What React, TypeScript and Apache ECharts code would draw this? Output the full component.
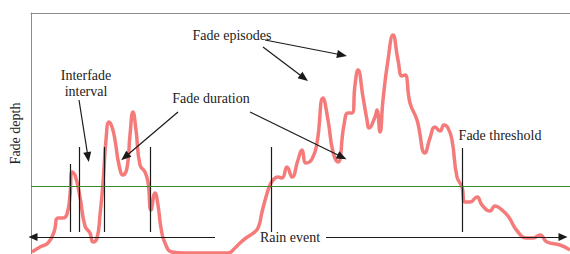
import React, { useEffect, useRef } from "react";
import * as echarts from "echarts";

// Time (arbitrary units) and fade depth (arbitrary units)
const time = [
  1, 9, 17, 23, 27, 32, 36, 39, 41, 44, 49, 54, 59, 62, 66, 69, 72, 75, 78, 81,
  84, 88, 92, 96, 99, 102, 105, 109, 114, 117, 120, 124, 127, 130, 134, 141, 154, 169, 184, 197,
  204, 209, 215, 221, 227, 231, 235, 239, 243, 247, 251, 256, 261, 267, 271, 275, 281, 286, 292, 297,
  302, 307, 313, 317, 321, 324, 327, 332, 336, 338, 344, 346, 349, 352, 357, 362, 367, 371, 374, 379,
  386, 394, 399, 404, 409, 413, 417, 421, 426, 431, 434, 439, 446, 451, 459, 464, 471, 477, 487, 496,
  502, 509, 516, 529, 539,
];
const fadeDepth = [
  2, 7, 11, 22, 36, 36, 40, 59, 82, 79, 57, 28, 21, 12, 16, 39, 71, 114, 132, 127,
  114, 89, 79, 86, 119, 142, 124, 89, 82, 72, 44, 61, 49, 26, 11, 2, 1, 1, 1, 1,
  6, 11, 16, 20, 26, 42, 57, 69, 75, 77, 76, 87, 77, 94, 104, 91, 95, 111, 156, 134,
  102, 92, 129, 141, 141, 169, 184, 157, 134, 126, 137, 144, 122, 154, 194, 219, 194, 178, 179, 151,
  134, 101, 116, 127, 123, 129, 126, 114, 77, 67, 52, 52, 57, 49, 43, 48, 44, 38, 22, 16,
  16, 19, 12, 9, 4,
];

const fadeThreshold = 68;
// vertical markers: [time, top depth]
const markerTimes = [39, 48, 73, 119, 240, 431];
const markerTops = [90, 107, 107, 107, 107, 106];
const markerBottom = 22;
const rainEventDepth = 17;
const rainEventLeft = [184, 2];
const rainEventRight = [295, 532];
// annotation arrows: [fromT, fromD, toT, toD]
const annotationArrows = [
  [234, 214, 311, 199],
  [232, 207, 273, 176],
  [219, 142, 311, 97],
  [147, 142, 94, 97],
  [48, 154, 57, 97],
];

export default function App() {
  const ref = useRef<HTMLDivElement>(null);
  useEffect(() => {
    const chart = echarts.init(ref.current!, null, { renderer: "svg" });
    const font = '"Liberation Serif", "Times New Roman", serif';
    const black = { color: "#1a1a1a", width: 1.2, type: "solid" };
    const markLineData: any[] = [];
    markerTimes.forEach((t, i) => {
      markLineData.push([
        { coord: [t, markerTops[i]], lineStyle: black },
        { coord: [t, markerBottom] },
      ]);
    });
    markLineData.push([
      { coord: [0, fadeThreshold], lineStyle: { color: "#3b8a2c", width: 1.2, type: "solid" }, symbol: "none" },
      { coord: [539, fadeThreshold], symbol: "none" },
    ]);
    markLineData.push([
      { coord: [rainEventLeft[0], rainEventDepth], lineStyle: black, symbol: "none" },
      { coord: [rainEventLeft[1], rainEventDepth], symbol: "triangle", symbolSize: [8, 9] },
    ]);
    markLineData.push([
      { coord: [rainEventRight[0], rainEventDepth], lineStyle: black, symbol: "none" },
      { coord: [rainEventRight[1], rainEventDepth], symbol: "triangle", symbolSize: [8, 9] },
    ]);
    annotationArrows.forEach((a) => {
      markLineData.push([
        { coord: [a[0], a[1]], lineStyle: black, symbol: "none" },
        { coord: [a[2], a[3]], symbol: "triangle", symbolSize: [8, 10] },
      ]);
    });

    chart.setOption({
      animation: false,
      grid: { left: 31, top: 13, right: -2, bottom: -2 },
      xAxis: {
        type: "value",
        min: 0,
        max: 539,
        position: "top",
        axisLine: { show: true, onZero: false, lineStyle: { color: "#8c8c8c", width: 1 } },
        axisTick: { show: false },
        axisLabel: { show: false },
        splitLine: { show: false },
      },
      yAxis: {
        type: "value",
        min: 0,
        max: 241,
        name: "Fade depth",
        nameLocation: "middle",
        nameGap: 9,
        nameTextStyle: { fontFamily: font, fontSize: 14, color: "#222" },
        axisLine: { show: true, onZero: false, lineStyle: { color: "#8c8c8c", width: 1 } },
        axisTick: { show: false },
        axisLabel: { show: false },
        splitLine: { show: false },
      },
      series: [
        {
          type: "line",
          data: time.map((t, i) => [t, fadeDepth[i]]),
          smooth: 0.5,
          showSymbol: false,
          silent: true,
          lineStyle: { color: "#f46d6d", width: 3.5, opacity: 0.9 },
          z: 2,
          markLine: {
            silent: true,
            animation: false,
            symbol: ["none", "none"],
            label: { show: false },
            lineStyle: { type: "solid", color: "#1a1a1a", width: 1.2 },
            emphasis: { disabled: true },
            data: markLineData,
          },
        },
      ],
      graphic: [
        { type: "text", x: 232, y: 35, style: { text: "Fade episodes", font: `14px ${font}`, fill: "#222", align: "center", verticalAlign: "middle" } },
        { type: "text", x: 211, y: 98, style: { text: "Fade duration", font: `14px ${font}`, fill: "#222", align: "center", verticalAlign: "middle" } },
        { type: "text", x: 86, y: 83, style: { text: "Interfade\ninterval", font: `14px ${font}`, lineHeight: 16, fill: "#222", align: "center", verticalAlign: "middle" } },
        { type: "text", x: 500, y: 135, style: { text: "Fade threshold", font: `14px ${font}`, fill: "#222", align: "center", verticalAlign: "middle" } },
        { type: "text", x: 290, y: 237, style: { text: "Rain event", font: `14px ${font}`, fill: "#222", align: "center", verticalAlign: "middle" } },
      ],
    });
    return () => chart.dispose();
  }, []);
  return (
    <div
      ref={ref}
      style={{ position: "fixed", left: 0, top: 0, width: 570, height: 254, background: "#fff" }}
    />
  );
}
